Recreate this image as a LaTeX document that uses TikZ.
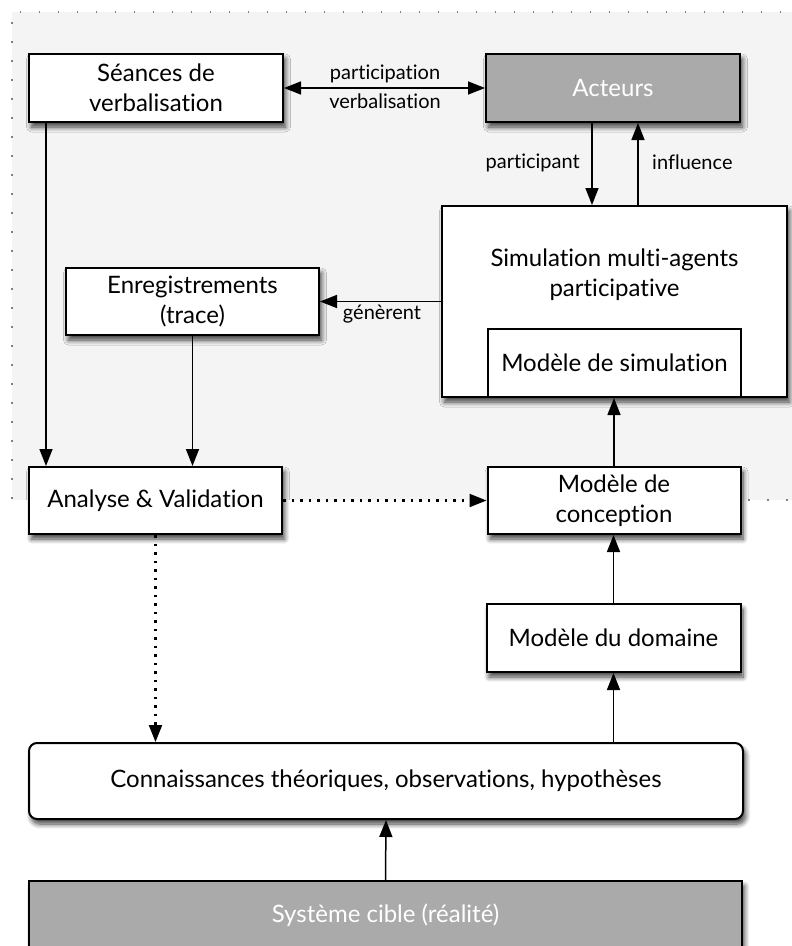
\documentclass[tikz,border=0pt]{standalone}
\usepackage{fontspec}
\setmainfont{Lato}[Ligatures=NoCommon]
\usetikzlibrary{arrows.meta,shadows.blur}
\definecolor{fondgris}{HTML}{F4F4F4}
\definecolor{boitegris}{HTML}{AAAAAA}

\tikzset{
  cadre/.style={draw,line width=2pt,fill=white,minimum width=254pt,minimum height=68pt,
    align=center,inner sep=2pt,font=\fontsize{24}{30}\selectfont},
  boite/.style={cadre,
    blur shadow={shadow xshift=2.5pt,shadow yshift=-5pt,shadow blur steps=8,shadow blur radius=5pt,shadow opacity=75}},
  boitegrise/.style={boite,fill=boitegris,text=white},
  etiq/.style={font=\fontsize{20}{24}\selectfont,inner sep=0pt},
  fleche/.style={line width=1.5pt,-{Triangle[length=17pt,width=13pt]}},
  pointille/.style={line width=2.2pt,dash pattern=on 2.5pt off 6pt},
}

\begin{document}
\begin{tikzpicture}[x=1pt,y=-1pt]
              %\draw[help lines,step=50pt](0,0) grid(792,946);
              \useasboundingbox (0,0) rectangle (792,946);
              \path[fill=fondgris] (12,12) rectangle (800,500);
              \path[draw,gray,line width=1.5pt,dash pattern=on 1.5pt off 17.5pt] (800,12)--(12,12)--(12,500)--(29,500);
              \path[draw,gray,line width=1.5pt,dash pattern=on 1.5pt off 17.5pt] (748,500)--(800,500);
              % boites
              \node[boite] (seances) at (156,88) {Séances de\\verbalisation};
              \node[boitegrise] (acteurs) at (613,88) {Acteurs};
              \node[boite,minimum width=345pt,minimum height=191pt] (simu) at (614.5,301.5) {};
              \node[inner sep=0pt,align=center,font=\fontsize{24}{30}\selectfont] (simutexte) at (614.5,275) {Simulation multi-agents\\participative};
              \node[cadre,minimum width=253pt] (modsim) at (614.5,363) {Modèle de simulation};
              \node[boite,minimum width=253pt,minimum height=67pt] (enreg) at (192.5,301.5) {Enregistrements\\(trace)};
              \node[boite,minimum width=253pt,minimum height=67pt] (analyse) at (155.5,500.5) {Analyse \& Validation};
              \node[boite,minimum width=253pt,minimum height=67pt] (conception) at (614,500.5) {Modèle de\\conception};
              \node[boite] (domaine) at (613.5,638) {Modèle du domaine};
              \node[boite,minimum width=714pt,minimum height=76pt,rounded corners=8pt] (connaiss) at (386,781) {Connaissances théoriques, observations, hypothèses};
              \node[boitegrise,minimum width=713pt,minimum height=68pt] (cible) at (385.5,915) {Système cible (réalité)};
              % liens
              \path[draw,fleche,{Triangle[length=17pt,width=13pt]}-{Triangle[length=17pt,width=13pt]}] (seances.east)--(acteurs.west);
              \node[etiq] (lparticipation) at (385,74) {participation};
              \node[etiq] (lverbalisation) at (385,101) {verbalisation};
              \path[draw,fleche] ([xshift=-21pt]acteurs.south)--([xshift=-21pt]acteurs.south |- simu.north);
              \node[etiq,anchor=east] (lparticipant) at (580,163) {participant};
              \path[draw,fleche] ([xshift=25pt]acteurs.south |- simu.north)--([xshift=25pt]acteurs.south);
              \node[etiq,anchor=west] (linfluence) at (652,162) {influence};
              \path[draw,fleche] (simu.west |- enreg.east)--(enreg.east);
              \node[etiq] (lgenerent) at (382,314) {génèrent};
              \path[draw,fleche] ([xshift=-110pt]seances.south)--([xshift=-110pt]seances.south |- analyse.north);
              \path[draw,fleche] (enreg.south)--(enreg.south |- analyse.north);
              \path[draw,fleche,pointille] (analyse.east)--(conception.west);
              \path[draw,fleche] (conception.north)--(conception.north |- simu.south);
              \path[draw,fleche] (domaine.north)--(domaine.north |- conception.south);
              \path[draw,fleche] (domaine.south |- connaiss.north)--(domaine.south);
              \path[draw,fleche,pointille] (analyse.south)--(analyse.south |- connaiss.north);
              \path[draw,fleche] (cible.north)--(connaiss.south);
            \end{tikzpicture}
\end{document}
